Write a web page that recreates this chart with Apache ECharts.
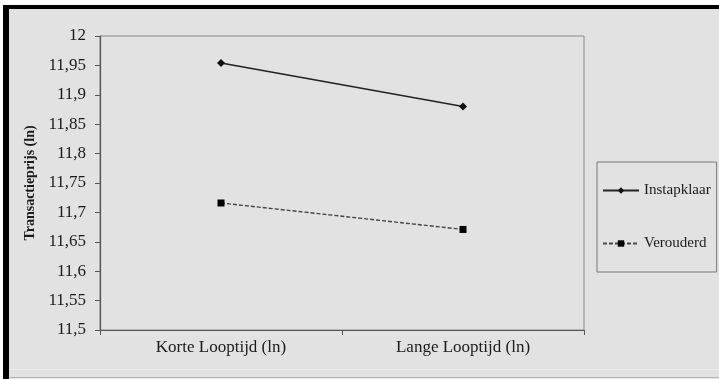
<!DOCTYPE html>
<html>
<head>
<meta charset="utf-8">
<script src="https://cdn.jsdelivr.net/npm/echarts@6/dist/echarts.min.js"></script>
<style>
  html, body { margin: 0; padding: 0; background: #ffffff; }
  #chart { width: 719px; height: 379px; }
</style>
</head>
<body>
<div id="chart"></div>
<script>
// Categories along the horizontal axis
const categories = ['Korte Looptijd (ln)', 'Lange Looptijd (ln)'];
// Mean transaction price (ln) per series
const instapklaar = [11.954, 11.880];
const verouderd = [11.716, 11.671];
// Vertical axis range
const yMin = 11.5;
const yMax = 12;
const yStep = 0.05;

const serif = '"Liberation Serif", "DejaVu Serif", serif';
const bg = '#e2e2e2';

const chart = echarts.init(document.getElementById('chart'), null, { renderer: 'canvas' });

chart.setOption({
  backgroundColor: bg,
  animation: false,
  graphic: [
    // outer white margin and heavy black frame on the top and left
    { type: 'rect', shape: { x: 0, y: 0, width: 719, height: 5 }, style: { fill: '#ffffff' }, silent: true },
    { type: 'rect', shape: { x: 0, y: 0, width: 3, height: 379 }, style: { fill: '#ffffff' }, silent: true },
    { type: 'rect', shape: { x: 3, y: 5, width: 716, height: 4 }, style: { fill: '#000000' }, silent: true },
    { type: 'rect', shape: { x: 3, y: 5, width: 6, height: 374 }, style: { fill: '#000000' }, silent: true },
    { type: 'line', shape: { x1: 9, y1: 369.5, x2: 719, y2: 369.5 }, style: { stroke: '#ececec', lineWidth: 1 }, silent: true },
    { type: 'line', shape: { x1: 9, y1: 377.5, x2: 719, y2: 377.5 }, style: { stroke: '#b8b8b8', lineWidth: 1 }, silent: true }
  ],
  grid: {
    left: 100, top: 36, right: 135, bottom: 49,
    show: true,
    backgroundColor: bg,
    borderColor: '#8a8a8a',
    borderWidth: 1
  },
  legend: {
    orient: 'vertical',
    left: 597,
    top: 162,
    padding: [21, 6, 21, 5],
    itemGap: 38,
    itemWidth: 36,
    itemHeight: 8,
    backgroundColor: bg,
    borderColor: '#777777',
    borderWidth: 1,
    textStyle: { fontFamily: serif, fontSize: 15, color: '#1a1a1a', padding: [0, 0, 0, 0] },
    data: ['Instapklaar', 'Verouderd']
  },
  xAxis: {
    type: 'category',
    data: categories,
    boundaryGap: true,
    axisLine: { lineStyle: { color: '#555555', width: 1.2 } },
    axisTick: { show: true, length: 5, lineStyle: { color: '#555555' } },
    axisLabel: { fontFamily: serif, fontSize: 17, color: '#1a1a1a', margin: 9 },
    splitLine: { show: false }
  },
  yAxis: {
    type: 'value',
    min: yMin,
    max: yMax,
    interval: yStep,
    name: 'Transactieprijs (ln)',
    nameLocation: 'middle',
    nameRotate: 90,
    nameGap: 57,
    nameTextStyle: { fontFamily: serif, fontSize: 14, fontWeight: 'bold', color: '#1a1a1a' },
    axisLine: { show: true, lineStyle: { color: '#555555', width: 1.2 } },
    axisTick: { show: true, length: 5, lineStyle: { color: '#555555' } },
    axisLabel: {
      fontFamily: serif, fontSize: 17, color: '#1a1a1a', margin: 14,
      formatter: v => String(Math.round(v * 100) / 100).replace('.', ',')
    },
    splitLine: { show: false }
  },
  series: [
    {
      name: 'Instapklaar',
      type: 'line',
      data: instapklaar,
      symbol: 'path://M0,-1L1,0L0,1L-1,0Z',
      symbolSize: 8,
      itemStyle: { color: '#111111' },
      lineStyle: { color: '#222222', width: 1.4, type: 'solid' }
    },
    {
      name: 'Verouderd',
      type: 'line',
      data: verouderd,
      symbol: 'rect',
      symbolSize: 7,
      itemStyle: { color: '#000000' },
      lineStyle: { color: '#444444', width: 1.4, type: [4, 2] }
    }
  ]
});
</script>
</body>
</html>
